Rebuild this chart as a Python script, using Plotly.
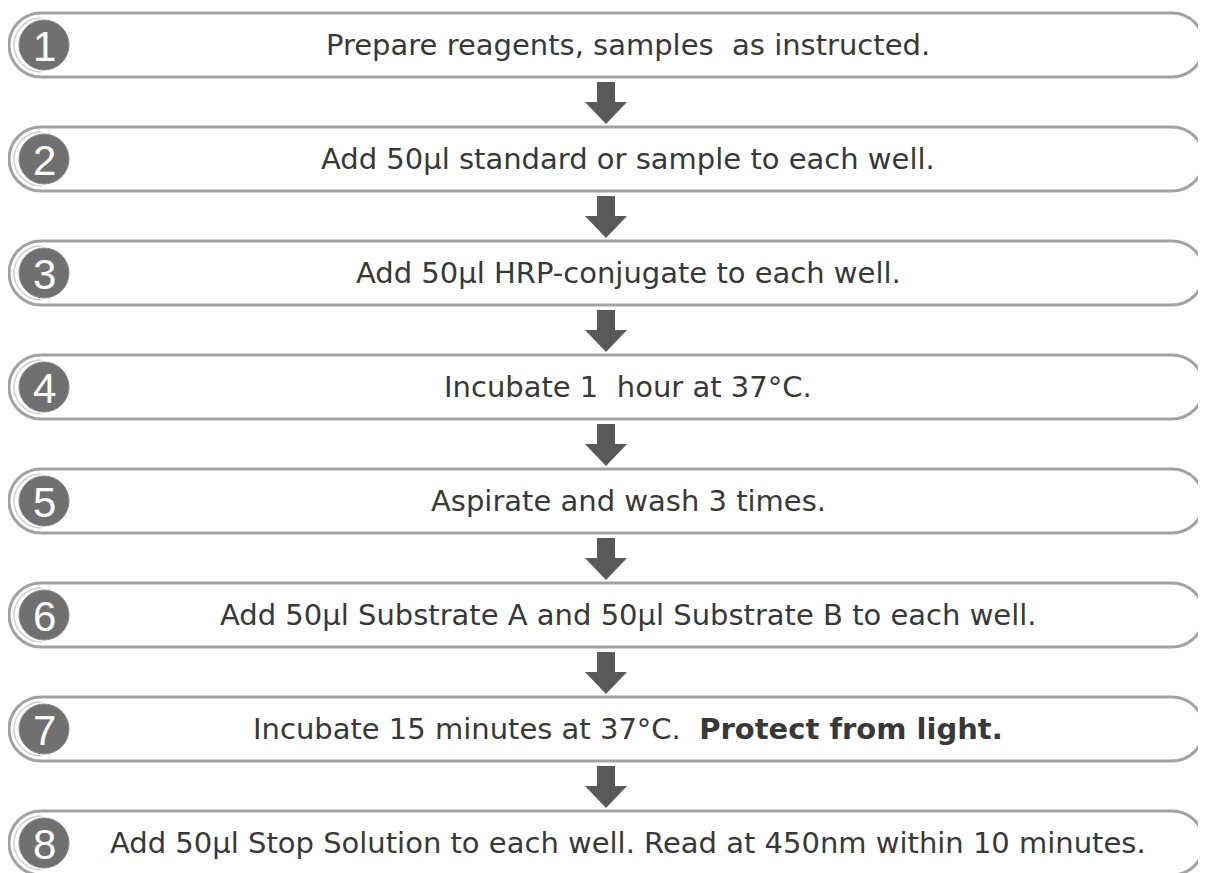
import plotly.graph_objects as go

step_numbers = ["1", "2", "3", "4", "5", "6", "7", "8"]
step_texts = [
    "Prepare reagents, samples  as instructed.",
    "Add 50µl standard or sample to each well.",
    "Add 50µl HRP-conjugate to each well.",
    "Incubate 1  hour at 37°C.",
    "Aspirate and wash 3 times.",
    "Add 50µl Substrate A and 50µl Substrate B to each well.",
    "Incubate 15 minutes at 37°C.  <b>Protect from light.</b>",
    "Add 50µl Stop Solution to each well. Read at 450nm within 10 minutes.",
]

W, H = 1206, 873
OFF = 8  # default page body margin
fig = go.Figure()

border = "#a3a3a3"
shapes = []
annotations = []
y0 = 45.0
dy = 114.0
L, R = 9, 1204
r = 32
k = 0.5523 * r

for i, (num, txt) in enumerate(zip(step_numbers, step_texts)):
    yc = y0 + i * dy
    top, bot = yc - r, yc + r
    path = (f"M {L+r},{top} L {R-r},{top} "
            f"C {R-r+k},{top} {R},{yc-k} {R},{yc} "
            f"C {R},{yc+k} {R-r+k},{bot} {R-r},{bot} "
            f"L {L+r},{bot} "
            f"C {L+r-k},{bot} {L},{yc+k} {L},{yc} "
            f"C {L},{yc-k} {L+r-k},{top} {L+r},{top} Z")
    shapes.append(dict(type="path", path=path, xref="x", yref="y",
                       line=dict(color=border, width=3), fillcolor="white", layer="below"))
    # inner arc on left
    ri = r - 5
    ki = 0.5523 * ri
    cx = L + r
    ipath = (f"M {cx},{yc-ri} C {cx-ki},{yc-ri} {cx-ri},{yc-ki} {cx-ri},{yc} "
             f"C {cx-ri},{yc+ki} {cx-ki},{yc+ri} {cx},{yc+ri}")
    shapes.append(dict(type="path", path=ipath, xref="x", yref="y",
                       line=dict(color="#cfcfcf", width=1.5)))
    # number circle
    cr = 25
    ccx = 44
    shapes.append(dict(type="circle", xref="x", yref="y",
                       x0=ccx-cr, x1=ccx+cr, y0=yc-cr, y1=yc+cr,
                       fillcolor="#707070", line=dict(color="#8a8a8a", width=1)))
    annotations.append(dict(x=ccx, y=yc+1, xref="x", yref="y", text=num, showarrow=False,
                            font=dict(family="Liberation Sans, Arial", size=42, color="white"),
                            xanchor="center", yanchor="middle"))
    annotations.append(dict(x=628, y=yc, xref="x", yref="y", text=txt, showarrow=False,
                            font=dict(family="DejaVu Sans", size=29, color="#383838"),
                            xanchor="center", yanchor="middle"))
    # arrow to next
    if i < len(step_numbers) - 1:
        ax = 606
        a_top = bot + 5
        a_tip = yc + dy - r - 3
        head_start = a_top + 20
        sw, hw = 9, 21
        apath = (f"M {ax-sw},{a_top} L {ax+sw},{a_top} L {ax+sw},{head_start} "
                 f"L {ax+hw},{head_start} L {ax},{a_tip} L {ax-hw},{head_start} "
                 f"L {ax-sw},{head_start} Z")
        shapes.append(dict(type="path", path=apath, xref="x", yref="y",
                           fillcolor="#595959", line=dict(width=0)))

fig.add_trace(go.Scatter(x=[OFF, W], y=[OFF, H], mode="markers", marker=dict(opacity=0),
                         hoverinfo="skip", showlegend=False))
fig.update_layout(
    width=W - OFF, height=H - OFF, margin=dict(l=0, r=0, t=0, b=0),
    paper_bgcolor="white", plot_bgcolor="white",
    xaxis=dict(range=[OFF, W], visible=False, fixedrange=True),
    yaxis=dict(range=[H, OFF], visible=False, fixedrange=True),
    shapes=shapes, annotations=annotations,
)
fig.write_html("out.html")
